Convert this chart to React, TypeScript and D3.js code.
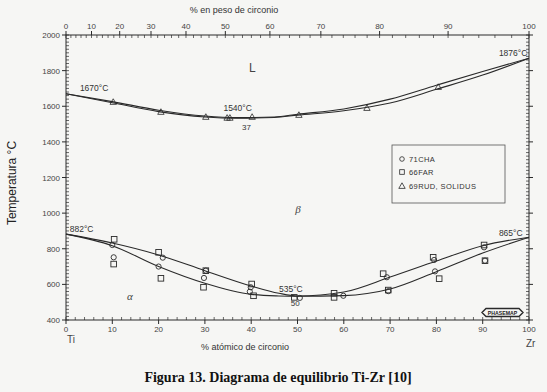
import React from "react";
import * as d3 from "d3";

// liquidus / solidus (at.% Zr, °C)
const liqX = [0, 10, 20, 30, 37, 45, 50, 60, 70, 80, 90, 100];
const liqUpper = [1670, 1626, 1578, 1545, 1536, 1540, 1555, 1585, 1640, 1718, 1795, 1870];
const liqLower = [1670, 1620, 1570, 1540, 1533, 1537, 1550, 1575, 1618, 1695, 1775, 1870];
// beta transus
const trX = [0, 10, 20, 30, 40, 46, 50, 60, 70, 80, 90, 100];
const trUpper = [882, 832, 765, 677, 591, 550, 535, 557, 641, 731, 817, 865];
const trLower = [882, 817, 700, 606, 544, 535, 533, 537, 574, 671, 776, 865];

// 71CHA circles
const chaX = [10, 10.3, 20.9, 20, 30.2, 29.8, 39.9, 39.7, 50.5, 59.9, 69.3, 69.6, 79.5, 79.7, 90.3, 90.5];
const chaT = [821, 752, 750, 700, 677, 636, 584, 559, 524, 536, 640, 562, 737, 673, 808, 733];
// 66FAR squares
const farX = [10.4, 10.3, 20, 20.5, 30.2, 29.7, 40.1, 40.5, 49.3, 57.9, 57.9, 68.5, 69.6, 79.3, 80.6, 90.3, 90.5];
const farT = [853, 714, 780, 634, 677, 584, 602, 536, 527, 550, 527, 660, 568, 752, 632, 821, 733];
// 69RUD solidus triangles
const rudX = [10.2, 20.5, 30.2, 34.8, 35.4, 40.2, 50.3, 65, 80.4];
const rudT = [1624, 1568, 1540, 1535, 1535, 1540, 1551, 1590, 1708];

const yTicks = [400, 600, 800, 1000, 1200, 1400, 1600, 1800, 2000];
const xTicks = [0, 10, 20, 30, 40, 50, 60, 70, 80, 90, 100];
const wTicks = [0, 10, 20, 30, 40, 50, 60, 70, 80, 90, 100];

const MZr = 91.224;
const MTi = 47.867;
const wtToAt = (w: number) => {
  if (w <= 0) return 0;
  if (w >= 100) return 100;
  const a = w / MZr;
  const b = (100 - w) / MTi;
  return (100 * a) / (a + b);
};

export default function App() {
  const W = 547, H = 392;
  const x = d3.scaleLinear().domain([0, 100]).range([66, 529]);
  const y = d3.scaleLinear().domain([400, 2000]).range([320, 35]);
  const ink = "#2a2a2a";
  const font = "Liberation Sans, Arial, sans-serif";

  const mk = (xs: number[], ts: number[]) =>
    d3.line<number>().x((_, i) => x(xs[i])).y((t) => y(t)).curve(d3.curveMonotoneX)(ts) || "";

  const minorY = d3.range(400, 2001, 20);
  const minorX = d3.range(0, 101, 2);
  const minorW = d3.range(0, 101, 2);

  const tri = (cx: number, cy: number) => `M${cx},${cy - 3.2}L${cx + 3.2},${cy + 2.4}L${cx - 3.2},${cy + 2.4}Z`;

  return (
    <svg width={W} height={H} style={{ position: "absolute", left: 0, top: 0, background: "#f6f6f4" }}>
      <rect x={0} y={0} width={W} height={H} fill="#f6f6f4" />
      {/* frame */}
      <rect x={x(0)} y={y(2000)} width={x(100) - x(0)} height={y(400) - y(2000)} fill="none" stroke={ink} strokeWidth={1} />
      {/* left axis */}
      {minorY.map((t) => (
        <line key={"ly" + t} x1={x(0)} x2={x(0) + 3} y1={y(t)} y2={y(t)} stroke={ink} strokeWidth={0.7} />
      ))}
      {minorY.map((t) => (
        <line key={"ry" + t} x1={x(100)} x2={x(100) - 3} y1={y(t)} y2={y(t)} stroke={ink} strokeWidth={0.7} />
      ))}
      {yTicks.map((t) => (
        <g key={"yt" + t}>
          <line x1={x(0) - 4} x2={x(0)} y1={y(t)} y2={y(t)} stroke={ink} strokeWidth={1} />
          <line x1={x(100) + 4} x2={x(100)} y1={y(t)} y2={y(t)} stroke={ink} strokeWidth={1} />
          <text x={x(0) - 6} y={y(t) + 3} fontSize={8} textAnchor="end" fill="#444" fontFamily={font}>{t}</text>
        </g>
      ))}
      {/* bottom axis */}
      {minorX.map((t) => (
        <line key={"bx" + t} x1={x(t)} x2={x(t)} y1={y(400)} y2={y(400) - 3} stroke={ink} strokeWidth={0.7} />
      ))}
      {xTicks.map((t) => (
        <g key={"xt" + t}>
          <line x1={x(t)} x2={x(t)} y1={y(400)} y2={y(400) + 4} stroke={ink} strokeWidth={1} />
          <text x={x(t)} y={y(400) + 12} fontSize={8} textAnchor="middle" fill="#444" fontFamily={font}>{t}</text>
        </g>
      ))}
      {/* top axis (wt.%) */}
      {minorW.map((t) => (
        <line key={"tw" + t} x1={x(wtToAt(t))} x2={x(wtToAt(t))} y1={y(2000)} y2={y(2000) + 3} stroke={ink} strokeWidth={0.7} />
      ))}
      {wTicks.map((t) => (
        <g key={"wt" + t}>
          <line x1={x(wtToAt(t))} x2={x(wtToAt(t))} y1={y(2000)} y2={y(2000) - 4} stroke={ink} strokeWidth={1} />
          <text x={x(wtToAt(t))} y={y(2000) - 6} fontSize={8} textAnchor="middle" fill="#444" fontFamily={font}>{t}</text>
        </g>
      ))}
      {/* curves */}
      <path d={mk(liqX, liqUpper)} fill="none" stroke={ink} strokeWidth={1.1} />
      <path d={mk(liqX, liqLower)} fill="none" stroke={ink} strokeWidth={1.1} />
      <path d={mk(trX, trUpper)} fill="none" stroke={ink} strokeWidth={1.1} />
      <path d={mk(trX, trLower)} fill="none" stroke={ink} strokeWidth={1.1} />
      {/* markers */}
      {chaX.map((v, i) => (
        <circle key={"c" + i} cx={x(v)} cy={y(chaT[i])} r={2.6} fill="none" stroke={ink} strokeWidth={0.9} />
      ))}
      {farX.map((v, i) => (
        <rect key={"s" + i} x={x(v) - 2.8} y={y(farT[i]) - 2.8} width={5.6} height={5.6} fill="none" stroke={ink} strokeWidth={0.9} />
      ))}
      {rudX.map((v, i) => (
        <path key={"t" + i} d={tri(x(v), y(rudT[i]))} fill="none" stroke={ink} strokeWidth={0.8} />
      ))}
      {/* annotations */}
      <text x={x(3)} y={y(1686)} fontSize={8.5} fill="#333" fontFamily={font}>1670°C</text>
      <text x={x(34)} y={y(1572)} fontSize={8.5} fill="#333" fontFamily={font}>1540°C</text>
      <text x={x(39)} y={y(1467)} fontSize={8} fill="#333" textAnchor="middle" fontFamily={font}>37</text>
      <text x={x(93.5)} y={y(1880)} fontSize={8.5} fill="#333" fontFamily={font}>1876°C</text>
      <text x={x(0.8)} y={y(893)} fontSize={8.5} fill="#333" fontFamily={font}>882°C</text>
      <text x={x(93.5)} y={y(870)} fontSize={8.5} fill="#333" fontFamily={font}>865°C</text>
      <text x={x(46)} y={y(555)} fontSize={8.5} fill="#333" fontFamily={font}>535°C</text>
      <text x={x(49.5)} y={y(478)} fontSize={8} fill="#333" textAnchor="middle" fontFamily={font}>50</text>
      <text x={x(39.5)} y={y(1792)} fontSize={12} fill="#444" fontFamily={font}>L</text>
      <text x={x(49.5)} y={y(1000)} fontSize={11} fill="#444" fontStyle="italic" fontFamily="Liberation Serif, serif">β</text>
      <text x={x(13.2)} y={y(510)} fontSize={11} fill="#444" fontStyle="italic" fontFamily="Liberation Serif, serif">α</text>
      {/* legend */}
      <rect x={392} y={145} width={113} height={58} fill="none" stroke="#555" strokeWidth={0.8} />
      <circle cx={402} cy={159} r={2.3} fill="none" stroke={ink} strokeWidth={0.8} />
      <text x={409} y={162} fontSize={7.5} fill="#333" fontFamily={font} letterSpacing={0.4}>71CHA</text>
      <rect x={399.7} y={169.7} width={4.6} height={4.6} fill="none" stroke={ink} strokeWidth={0.8} />
      <text x={409} y={175} fontSize={7.5} fill="#333" fontFamily={font} letterSpacing={0.4}>66FAR</text>
      <path d={tri(402, 186)} fill="none" stroke={ink} strokeWidth={0.8} />
      <text x={409} y={189} fontSize={7.5} fill="#333" fontFamily={font} letterSpacing={0.4}>69RUD, SOLIDUS</text>
      {/* phasemap logo */}
      <path d="M486,308.5 L519,308.5 L523,312.5 L519,316.5 L486,316.5 L482,312.5 Z" fill="#f6f6f4" stroke={ink} strokeWidth={1.4} />
      <text x={502.5} y={314.5} fontSize={5.2} fill="#222" textAnchor="middle" fontWeight="bold" fontFamily={font}>PHASEMAP</text>
      {/* axis titles */}
      <text x={234} y={13} fontSize={9} fill="#333" textAnchor="middle" fontFamily={font}>% en peso de circonio</text>
      <text x={245} y={350} fontSize={9} fill="#333" textAnchor="middle" fontFamily={font}>% atómico de circonio</text>
      <text x={67} y={343} fontSize={10} fill="#444" fontFamily={font}>Ti</text>
      <text x={526} y={347} fontSize={10} fill="#444" fontFamily={font}>Zr</text>
      <text transform="translate(16,183) rotate(-90)" fontSize={12} fill="#222" textAnchor="middle" fontFamily={font}>Temperatura °C</text>
      <text x={278} y={382} fontSize={14} fontWeight="bold" fill="#111" textAnchor="middle" fontFamily="Liberation Serif, Times New Roman, serif">Figura 13. Diagrama de equilibrio Ti-Zr [10]</text>
    </svg>
  );
}
